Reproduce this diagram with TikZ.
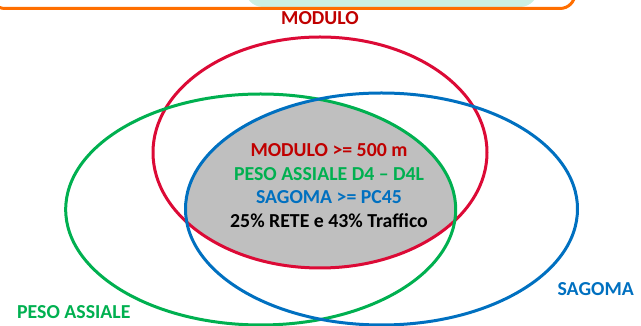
\documentclass[tikz,border=0pt]{standalone}
\usepackage{fontspec}
\setmainfont{Carlito}
\usepackage{xcolor}
\usetikzlibrary{positioning}
\definecolor{modred}{HTML}{C00000}
\definecolor{ringred}{HTML}{DC0A36}
\definecolor{pesogreen}{HTML}{00B050}
\definecolor{sagblue}{HTML}{0070C0}
\definecolor{midgray}{HTML}{BFBFBF}
\definecolor{mint}{HTML}{CCF0E2}
\definecolor{boxorange}{HTML}{FF6E00}

\begin{document}
\begin{tikzpicture}[x=1pt,y=1pt,node distance=23.7pt,ring/.style={line width=3pt},label node/.style={inner sep=0pt,font=\fontsize{19.8}{23.7}\selectfont\bfseries}]
                \useasboundingbox (0,0) rectangle (641,326);
                \clip (0,0) rectangle (641,326);

                % top frame
                \fill[mint,rounded corners=18pt] (245,319) rectangle (538,380);
                \draw[boxorange,line width=3pt,rounded corners=15pt] (-10,317.5) rectangle (575,380);

                % common part
                \begin{scope}
                    \clip (260.7,116.5) ellipse [x radius=195,y radius=115.5];
                    \clip (381.5,117) ellipse [x radius=196,y radius=116];
                    \fill[midgray] (320,173.5) ellipse [x radius=167,y radius=115.5];
                \end{scope}

                \draw[ring,ringred] (320,173.5) ellipse [x radius=167,y radius=115.5];
                \draw[ring,pesogreen] (260.7,116.5) ellipse [x radius=195,y radius=115.5];
                \draw[ring,sagblue] (381.5,117) ellipse [x radius=196,y radius=116];

                \node[label node,modred] (modulo) at (320,308) {MODULO};
                \node[label node,pesogreen,anchor=west] (peso) at (17,14) {PESO ASSIALE};
                \node[label node,sagblue,anchor=east] (sagoma) at (634,37) {SAGOMA};

                \node[label node,modred] (r1) at (329,176) {MODULO >= 500 m};
                \node[label node,pesogreen] (r2) [below of=r1] {PESO ASSIALE D4 – D4L};
                \node[label node,sagblue] (r3) [below of=r2] {SAGOMA >= PC45};
                \node[label node,black] (r4) [below of=r3] {25\% RETE e 43\% Traffico};

            \end{tikzpicture}
\end{document}
